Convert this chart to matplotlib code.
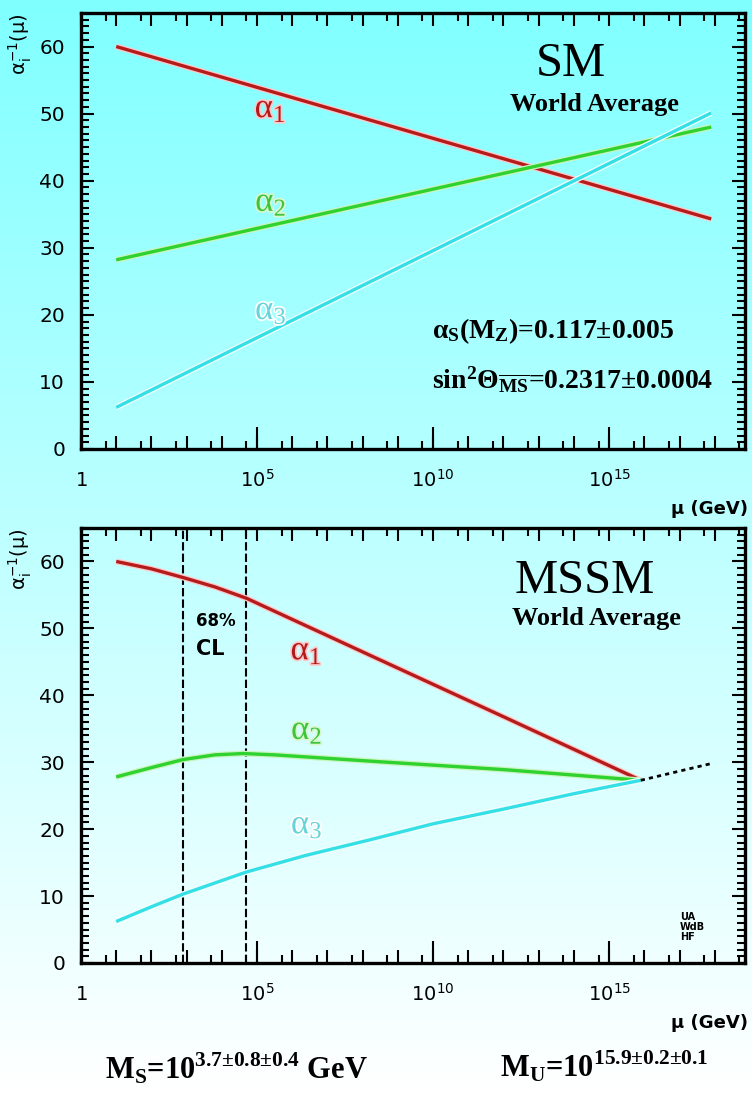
import numpy as np
import matplotlib
matplotlib.use("Agg")
import matplotlib.pyplot as plt
import matplotlib.patheffects as pe
from matplotlib.ticker import FixedLocator, FuncFormatter, NullFormatter

# --- values: log10(mu / GeV) and inverse couplings ---
sm_logmu = [1.0, 17.9]
sm_a1 = [60.0, 34.3]
sm_a2 = [28.2, 48.0]
sm_a3 = [6.2, 50.1]

mssm_a1_logmu = [1.0, 2.0, 2.9, 3.8, 4.7, 8.2, 12.0, 15.9]
mssm_a1 = [60.0, 58.9, 57.6, 56.2, 54.5, 46.0, 36.8, 27.3]
mssm_a2_logmu = [1.0, 2.0, 2.9, 3.8, 4.6, 5.5, 8.4, 12.0, 15.9]
mssm_a2 = [27.8, 29.2, 30.4, 31.1, 31.3, 31.1, 30.1, 28.9, 27.3]
mssm_a3_logmu = [1.0, 2.0, 2.9, 4.7, 6.4, 8.2, 10.0, 12.0, 14.0, 15.9]
mssm_a3 = [6.2, 8.4, 10.3, 13.6, 16.1, 18.4, 20.8, 23.0, 25.3, 27.3]
gut_logmu = [15.9, 17.9]
gut_a = [27.3, 29.8]
ms_band = [2.9, 4.7]  # 68% CL limits on M_S

W, H = 752, 1094
SERIF = "Liberation Serif"

RED, RED_HALO = "#b41c1c", "#ffc8c8"
GREEN, GREEN_HALO = "#2fd22f", "#c8f5c0"
CYAN, CYAN_HALO = "#34e0e6", "#f0ffff"


def box(l, t, r, b):
    # pixel box -> figure fraction
    return [l / W, 1 - b / H, (r - l) / W, (b - t) / H]


def xfmt(v, pos):
    e = int(round(np.log10(v)))
    if e == 0:
        return r"$\mathregular{1}$"
    if e % 5 == 0 and e <= 15:
        return r"$\mathregular{10^{%d}}$" % e
    return ""


def setup(ax):
    ax.set_xscale("log")
    ax.set_xlim(1, 10 ** 18.86)
    ax.set_ylim(0, 65)
    ax.set_facecolor("none")
    for s in ax.spines.values():
        s.set_linewidth(2.4)
    ax.xaxis.set_major_locator(FixedLocator(10.0 ** np.arange(0, 19)))
    ax.xaxis.set_minor_locator(FixedLocator(5 * 10.0 ** np.arange(0, 19)))
    ax.xaxis.set_major_formatter(FuncFormatter(xfmt))
    ax.xaxis.set_minor_formatter(NullFormatter())
    ax.yaxis.set_major_locator(FixedLocator(range(0, 70, 10)))
    ax.yaxis.set_minor_locator(FixedLocator(range(0, 66)))
    ax.tick_params(which="both", direction="in", top=True, right=True,
                   width=1.5, color="k")
    ax.tick_params(which="major", length=9.4)
    ax.tick_params(which="minor", length=5.5)
    ax.tick_params(axis="x", which="major", labelsize=14, pad=27)
    ax.tick_params(axis="y", which="major", labelsize=14.5, pad=11.5)
    for t in ax.xaxis.get_major_ticks():
        t.label1.set_va("baseline")
    # long ticks every 5 decades on the bottom axis
    sec = ax.secondary_xaxis("bottom")
    sec.set_xticks([1, 1e5, 1e10, 1e15])
    sec.tick_params(direction="in", length=16, width=1.5, labelbottom=False)
    sec.spines["bottom"].set_visible(False)
    ax.set_ylabel(r"$\mathregular{\alpha_i^{-1}(\mu)}$", loc="top",
                  fontsize=14, labelpad=4)
    ax.text(1.005, -0.138, "μ (GeV)", transform=ax.transAxes, ha="right",
            va="center", fontsize=13, fontweight="bold")


def curve(ax, logmu, vals, c, halo):
    ax.plot(10.0 ** np.asarray(logmu), vals, color=c, lw=2.4,
            solid_capstyle="butt", solid_joinstyle="round",
            path_effects=[pe.Stroke(linewidth=4.2, foreground=halo), pe.Normal()])


def label(ax, x, y, s, c, halo):
    ax.text(x, y, s, transform=ax.transAxes, ha="center", va="center",
            color=c, fontsize=25, family=SERIF,
            path_effects=[pe.withStroke(linewidth=2.5, foreground=halo)])


fig = plt.figure(figsize=(W / 100, H / 100), dpi=100)

# background: vertical cyan -> white gradient
bg = fig.add_axes([0, 0, 1, 1], zorder=-10)
grad = np.ones((256, 1, 3))
grad[:, 0, 0] = np.linspace(128, 255, 256) / 255
bg.imshow(grad, aspect="auto", extent=[0, 1, 0, 1])
bg.axis("off")

# ---------------- SM ----------------
ax1 = fig.add_axes(box(81, 13, 745, 449))
setup(ax1)
curve(ax1, sm_logmu, sm_a1, RED, RED_HALO)
curve(ax1, sm_logmu, sm_a2, GREEN, GREEN_HALO)
curve(ax1, sm_logmu, sm_a3, CYAN, CYAN_HALO)
label(ax1, 0.285, 0.78, r"$\mathregular{\alpha_1}$", "#b01a1a", RED_HALO)
label(ax1, 0.286, 0.565, r"$\mathregular{\alpha_2}$", "#3cc43c", "#d8f8d0")
label(ax1, 0.286, 0.317, r"$\mathregular{\alpha_3}$", "#66d4d8", "white")
ax1.text(0.738, 0.883, "SM", transform=ax1.transAxes, ha="center",
         va="center", fontsize=35, family=SERIF)
ax1.text(0.773, 0.791, "World Average", transform=ax1.transAxes,
         ha="center", va="center", fontsize=19, family=SERIF,
         fontweight="bold")
ax1.text(0.529, 0.255, r"$\mathregular{\alpha_S(M_Z)}$=0.117±0.005",
         transform=ax1.transAxes, ha="left", va="baseline", fontsize=20,
         family=SERIF, fontweight="bold")
ax1.text(0.529, 0.138,
         r"$\mathregular{sin^2\Theta_{\overline{MS}}}$=0.2317±0.0004",
         transform=ax1.transAxes, ha="left", va="baseline", fontsize=20,
         family=SERIF, fontweight="bold")

# ---------------- MSSM ----------------
ax2 = fig.add_axes(box(81, 528, 745, 963))
setup(ax2)
for v in ms_band:
    ax2.axvline(10 ** v, color="k", lw=1.5, dashes=(4, 1.5))
curve(ax2, mssm_a1_logmu, mssm_a1, RED, RED_HALO)
curve(ax2, mssm_a2_logmu, mssm_a2, GREEN, GREEN_HALO)
curve(ax2, mssm_a3_logmu, mssm_a3, CYAN, CYAN_HALO)
ax2.plot(10.0 ** np.asarray(gut_logmu), gut_a, color="k", lw=2.0,
         dashes=(1.5, 1.5))
label(ax2, 0.339, 0.717, r"$\mathregular{\alpha_1}$", "#b01a1a", RED_HALO)
label(ax2, 0.340, 0.534, r"$\mathregular{\alpha_2}$", "#3cc43c", "#d8f8d0")
label(ax2, 0.340, 0.317, r"$\mathregular{\alpha_3}$", "#66d4d8", "white")
ax2.text(0.759, 0.878, "MSSM", transform=ax2.transAxes, ha="center",
         va="center", fontsize=35, family=SERIF)
ax2.text(0.776, 0.793, "World Average", transform=ax2.transAxes,
         ha="center", va="center", fontsize=19, family=SERIF,
         fontweight="bold")
ax2.text(0.173, 0.786, "68%", transform=ax2.transAxes, ha="left",
         va="center", fontsize=12, fontweight="bold")
ax2.text(0.173, 0.722, "CL", transform=ax2.transAxes, ha="left",
         va="center", fontsize=15, fontweight="bold")
ax2.text(0.902, 0.117, "UA\nWdB\nHF", transform=ax2.transAxes, ha="left",
         va="top", fontsize=7, fontweight="bold", linespacing=1.0)

# ---------------- bottom notes ----------------
fig.text(105 / W, 1 - 1080 / H,
         r"$\mathregular{M_S}$=10$^{\mathregular{3.7±0.8±0.4}}$ GeV",
         ha="left", va="baseline", fontsize=22, family=SERIF,
         fontweight="bold")
fig.text(500 / W, 1 - 1078 / H,
         r"$\mathregular{M_U}$=10$^{\mathregular{15.9±0.2±0.1}}$",
         ha="left", va="baseline", fontsize=22, family=SERIF,
         fontweight="bold")

fig.savefig("out.png", dpi=100)
